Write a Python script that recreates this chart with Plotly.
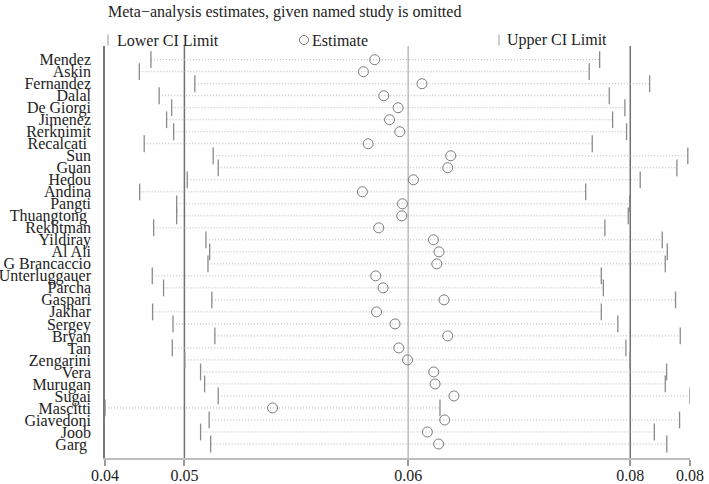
import plotly.graph_objects as go

# ---------------- data ----------------
studies = ["Mendez", "Askin", "Fernandez", "Dalal", "De Giorgi", "Jimenez", "Rerknimit",
           "Recalcati\u00a0", "Sun", "Guan", "Hedou", "Andina", "Pangti", "Thuangtong\u00a0",
           "Rekhtman", "Yildiray", "Al Ali", "G Brancaccio", "Unterluggauer", "Parcha",
           "Gaspari", "Jakhar", "Sergey", "Bryan", "Tan", "Zengarini", "Vera", "Murugan",
           "Sugai", "Mascitti", "Giavedoni", "Joob", "Garg\u00a0"]

lower = [0.04701, 0.04632, 0.04962, 0.04750, 0.04824, 0.04794, 0.04836, 0.04661,
         0.05071, 0.05101, 0.04917, 0.04634, 0.04854, 0.04854, 0.04717, 0.05028,
         0.05050, 0.05040, 0.04709, 0.04776, 0.05063, 0.04711, 0.04832, 0.05081,
         0.04828, 0.04902, 0.04996, 0.05020, 0.05101, 0.04428, 0.05047, 0.04996,
         0.05056]
estimate = [0.06031, 0.05964, 0.06312, 0.06085, 0.06170, 0.06119, 0.06180, 0.05992,
            0.06483, 0.06465, 0.06261, 0.05958, 0.06196, 0.06192, 0.06055, 0.06380,
            0.06413, 0.06400, 0.06037, 0.06081, 0.06443, 0.06042, 0.06152, 0.06465,
            0.06174, 0.06226, 0.06382, 0.06390, 0.06502, 0.05424, 0.06447, 0.06344,
            0.06411]
upper = [0.07368, 0.07306, 0.07665, 0.07425, 0.07518, 0.07445, 0.07528, 0.07324,
         0.07892, 0.07827, 0.07609, 0.07285, 0.07546, 0.07538, 0.07399, 0.07740,
         0.07770, 0.07758, 0.07378, 0.07390, 0.07819, 0.07378, 0.07476, 0.07847,
         0.07524, 0.07548, 0.07766, 0.07758, 0.07905, 0.06419, 0.07843, 0.07693,
         0.07767]
overall = [0.04900, 0.06230, 0.07550]   # combined lower CI, estimate, upper CI
tick_labels = ["0.04", "0.05", "0.06", "0.08", "0.08"]
title_text = "Meta\u2212analysis estimates, given named study is omitted"
legend_labels = ["Lower CI Limit", "Estimate", "Upper CI Limit"]

# ---------------- figure ----------------
FONT = "Liberation Serif, Times New Roman, serif"
W, H = 709, 484
ML, MR, MT, MB = 105, 19, 46, 26
pw, ph = W - ML - MR, H - MT - MB
ROW0, STEP, AXIS_Y = 59.7, 12.0, 457.7

n = len(studies)
ypos = list(range(n))

fig = go.Figure()

# dotted connecting lines
dx, dy = [], []
for i in range(n):
    dx += [lower[i], upper[i], None]
    dy += [i, i, None]
fig.add_trace(go.Scatter(x=dx, y=dy, mode="lines",
                         line=dict(color="#b3b3b3", width=1, dash="1px,2px"),
                         hoverinfo="skip", showlegend=False))

fig.add_trace(go.Scatter(x=lower, y=ypos, mode="markers", name=legend_labels[0],
                         marker=dict(symbol="line-ns", size=12,
                                     line=dict(color="#8a8a8a", width=1.3)),
                         showlegend=False))
fig.add_trace(go.Scatter(x=upper, y=ypos, mode="markers", name=legend_labels[2],
                         marker=dict(symbol="line-ns", size=12,
                                     line=dict(color="#8a8a8a", width=1.3)),
                         showlegend=False))
fig.add_trace(go.Scatter(x=estimate, y=ypos, mode="markers", name=legend_labels[1],
                         marker=dict(symbol="circle-open", size=10, color="#7a7a7a",
                                     line=dict(color="#7a7a7a", width=1)),
                         showlegend=False))

# reference lines at combined lower / estimate / upper
ref_colors = ["#707070", "#bdbdbd", "#707070"]
for v, c in zip(overall, ref_colors):
    fig.add_shape(type="line", xref="x", yref="paper", x0=v, x1=v, y0=0, y1=1,
                  line=dict(color=c, width=1.5), layer="below")

xmin, xmax = min(lower), max(upper)
tickvals = [xmin] + overall + [xmax]


def px_to_paper_x(px):
    return (px - ML) / pw


def py_to_paper_y(py):
    return 1 + (MT - py) / ph


# legend built from shapes + text
ly = py_to_paper_y(40)
for px in (108, 499):
    xp = px_to_paper_x(px)
    fig.add_shape(type="line", xref="paper", yref="paper", ysizemode="pixel",
                  yanchor=ly, x0=xp, x1=xp, y0=-5.5, y1=5.5,
                  line=dict(color="#9a9a9a", width=1))
fig.add_shape(type="circle", xref="paper", yref="paper", xsizemode="pixel",
              ysizemode="pixel", xanchor=px_to_paper_x(304), yanchor=ly,
              x0=-4.5, x1=4.5, y0=-4.5, y1=4.5, line=dict(color="#7a7a7a", width=1))
for txt, px in zip(legend_labels, (115, 310, 505)):
    fig.add_annotation(text=txt, xref="paper", yref="paper", x=px_to_paper_x(px), y=ly,
                       xanchor="left", yanchor="middle", showarrow=False,
                       font=dict(family=FONT, size=16, color="#222222"))

fig.add_annotation(text=title_text, xref="paper", yref="paper",
                   x=px_to_paper_x(106), y=py_to_paper_y(12),
                   xanchor="left", yanchor="middle", showarrow=False,
                   font=dict(family=FONT, size=16, color="#222222"))

fig.update_layout(
    width=W, height=H,
    margin=dict(l=ML, r=MR, t=MT, b=MB, pad=0, autoexpand=False),
    plot_bgcolor="white", paper_bgcolor="white",
    showlegend=False,
    font=dict(family=FONT, size=16, color="#222222"),
    xaxis=dict(range=[xmin, xmax], tickvals=tickvals, ticktext=tick_labels,
               automargin=False,
               showgrid=False, zeroline=False, showline=True, linecolor="#bdbdbd",
               linewidth=1.5, ticks="outside", ticklen=6, tickcolor="#9a9a9a",
               tickwidth=1.5, ticklabelstandoff=-4,
               tickfont=dict(family=FONT, size=16, color="#222222")),
    yaxis=dict(range=[(AXIS_Y - ROW0) / STEP, (MT - ROW0) / STEP],
               tickvals=ypos, ticktext=studies, automargin=False,
               showgrid=False, zeroline=False, showline=True, linecolor="#7a7a7a",
               linewidth=1.5, ticks="", ticklabelstandoff=9,
               tickfont=dict(family=FONT, size=16, color="#222222")),
)

fig.write_html("out.html", config={"displayModeBar": False},
               post_script="document.body.style.margin='0';"
                           "document.body.style.overflow='hidden';")
